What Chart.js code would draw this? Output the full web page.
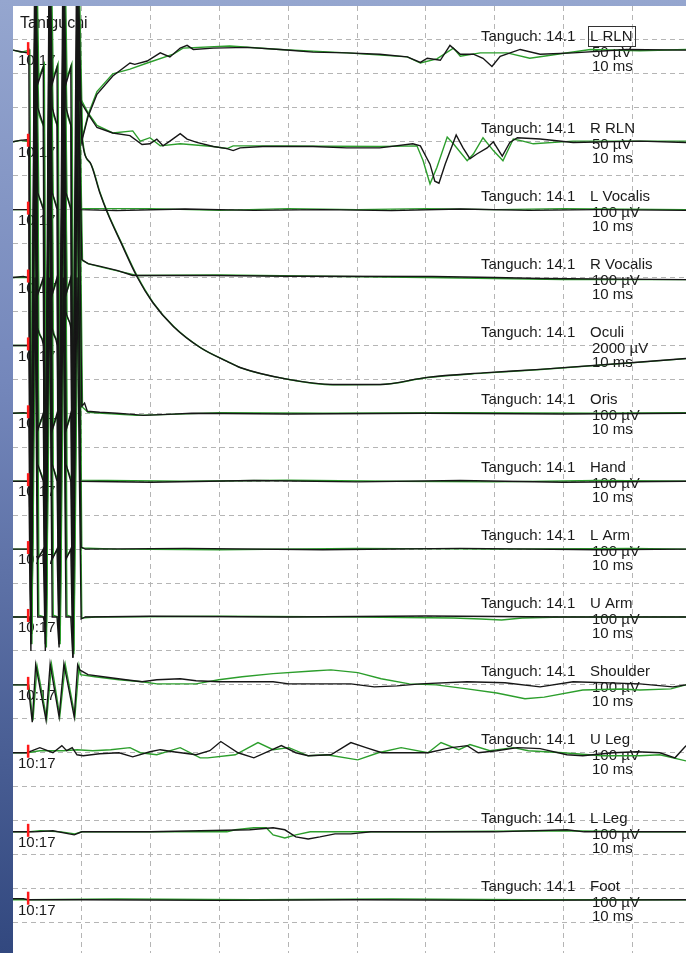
<!DOCTYPE html>
<html>
<head>
<meta charset="utf-8">
<script src="https://cdn.jsdelivr.net/npm/chart.js@4.4.1/dist/chart.umd.min.js"></script>
<style>
  html, body { margin: 0; padding: 0; }
  body {
    width: 686px; height: 953px; overflow: hidden;
    background: linear-gradient(to bottom, #95a6cf 0%, #7487bb 40%, #32487f 100%);
  }
  canvas { display: block; }
</style>
</head>
<body>
<canvas id="traces" width="686" height="953"></canvas>
<script>
// montage
const channelNames = ["L RLN", "R RLN", "L Vocalis", "R Vocalis", "Oculi", "Oris", "Hand",
  "L Arm", "U Arm", "Shoulder", "U Leg", "L Leg", "Foot"];
const sensitivities = [50, 50, 100, 100, 2000, 100, 100, 100, 100, 100, 100, 100, 100]; // µV per division
const channelOffsets = [1.3, 4, 6, 8, 10, 12, 14, 16, 18, 20, 22, 24.33, 26.33]; // display rows, in divisions
const sweepMs = 97.8;
const stimTime = 2.2;
const headerText = "Tanguch: 14.1";
const patientName = "Taniguchi";
const clockLabel = "10:17";
const timebaseLabel = "10 ms";

// traces as [ms, µV]; black = current sweep, green = reference sweep
const lRlnBlack = [[0,0],[1.0,-2],[2.0,-4],[2.3,0],[2.6,-750],[3.2,200],[3.6,-50],[4.4,-25],[4.7,-700],[5.3,200],
  [5.7,-50],[6.4,-25],[6.7,-650],[7.3,200],[7.7,-50],[8.4,-25],[8.7,-600],[9.3,200],[10.0,-134],[10.9,-98],
  [12.2,-65],[14.5,-38],[17.0,-19],[17.7,-21],[19.5,-16],[21.4,-4],[22.8,-10],[24.3,3],[25.3,7],[26.2,1],
  [29.1,3],[34.0,4],[38.8,1],[43.6,-3],[48.5,-4],[53.3,-6],[57.3,-10],[59.2,-18],[60.2,-12],[62.1,-15],
  [63.5,7],[65.0,-6],[66.9,-6],[68.3,-12],[69.6,-24],[70.8,-9],[73.7,1],[76.6,-6],[81.4,-4],[89.2,1],[97.8,0]];
const lRlnGreen = [[0,0],[1.2,-3],[2.45,0],[2.75,-730],[3.35,200],[3.75,-40],[4.55,-20],[4.85,-680],[5.45,200],
  [5.85,-40],[6.55,-20],[6.85,-630],[7.45,200],[7.85,-40],[8.55,-20],[8.85,-580],[9.45,200],[10.1,-128],
  [10.9,-95],[12.2,-61],[14.5,-35],[17.0,-28],[19.5,-19],[23.3,-6],[24.7,3],[31.5,6],[38.8,1],[48.5,-4],
  [57.3,-10],[59.2,-19],[61.6,-13],[64.0,3],[65.0,-9],[67.9,-4],[71.8,-4],[75.1,-12],[79.1,-6],[83.9,1],
  [91.1,-1],[97.8,1]];

const rRlnBlack = [[0,0],[1.0,2],[2.0,3],[2.3,0],[2.6,-700],[3.2,225],[3.6,50],[4.4,25],[4.7,-675],[5.3,225],
  [5.7,50],[6.4,25],[6.7,-650],[7.3,225],[7.7,50],[8.4,25],[8.7,-625],[9.3,225],[9.7,61],[10.9,41],[12.2,21],
  [14.5,13],[17.0,9],[18.75,-4],[19.9,-3],[20.9,4],[21.8,-6],[22.8,1],[24.3,12],[25.3,4],[26.7,-1],[29.1,-7],
  [31.1,-10],[32.0,-13],[33.0,-9],[36.3,-7],[43.6,-7],[48.5,-9],[53.3,-9],[58.1,-3],[59.2,-6],[60.6,-33],
  [61.3,-58],[61.9,-61],[62.8,-33],[64.4,10],[65.4,-9],[66.4,-25],[67.4,-18],[68.9,-9],[69.8,0],[71.1,-21],
  [72.2,-1],[73.3,6],[76.6,4],[81.4,-1],[91.1,1],[97.8,-1]];
const rRlnGreen = [[0,0],[1.2,2],[2.45,0],[2.75,-680],[3.35,225],[3.75,40],[4.55,20],[4.85,-660],[5.45,225],
  [5.85,40],[6.55,20],[6.85,-630],[7.45,225],[7.85,40],[8.55,20],[8.85,-600],[9.45,225],[9.8,64],[10.9,43],
  [12.2,24],[14.5,13],[17.4,16],[18.5,1],[19.9,6],[21.4,-6],[24.3,-3],[29.1,-7],[31.1,-10],[32.0,-6],
  [38.8,-6],[53.3,-7],[58.7,-6],[59.6,-28],[60.6,-62],[61.6,-38],[63.1,7],[64.0,-3],[66.0,-28],[66.9,-18],
  [68.3,6],[69.8,-13],[71.2,-28],[72.7,4],[74.1,1],[75.6,-3],[81.4,1],[97.8,1]];

const lVocBlack = [[0,0],[2.3,0],[2.6,-1250],[3.2,650],[3.6,50],[4.4,0],[4.7,-1200],[5.3,650],[5.7,50],[6.4,0],
  [6.7,-1150],[7.3,650],[7.7,50],[8.4,0],[8.7,-1100],[9.3,600],[9.8,0],[15,-3],[25,2],[35,-2],[45,0],[55,-3],
  [65,2],[75,-2],[85,0],[97.8,-2]];
const lVocGreen = [[0,0],[2.45,0],[2.75,-1200],[3.35,650],[3.75,40],[4.55,0],[4.85,-1150],[5.45,650],[5.85,40],
  [6.55,0],[6.85,-1100],[7.45,650],[7.85,40],[8.55,0],[8.85,-1050],[9.45,600],[9.9,3],[20,3],[30,-2],[40,3],
  [50,0],[60,3],[70,0],[80,3],[97.8,0]];

const rVocBlack = [[0,0],[1.5,3],[2.3,0],[2.6,-1050],[3.2,850],[3.6,-50],[4.4,0],[4.7,-1000],[5.3,850],[5.7,-50],
  [6.4,0],[6.7,-950],[7.3,850],[7.7,-50],[8.4,0],[8.7,-900],[9.3,800],[10.0,53],[10.9,41],[12.7,33],[15.1,21],
  [17.4,6],[20,6],[29,6],[40,4],[61,3],[70,0],[76.6,-3],[97.8,-6]];
const rVocGreen = [[0,0],[2.45,0],[2.75,-1000],[3.35,850],[3.75,-40],[4.55,0],[4.85,-950],[5.45,850],[5.85,-40],
  [6.55,0],[6.85,-900],[7.45,850],[7.85,-40],[8.55,0],[8.85,-850],[9.45,800],[10.1,50],[11,40],[13,30],
  [15.5,18],[18,6],[30,8],[45,4],[60,0],[70,-3],[80,-6],[97.8,-6]];

const oculiBlack = [[0,0],[2.3,0],[2.6,-17000],[3.2,21000],[3.6,1000],[4.4,0],[4.7,-16400],[5.3,21000],
  [5.7,1000],[6.4,0],[6.7,-16000],[7.3,21000],[7.7,2000],[8.4,1000],[8.7,-15600],[9.3,21000],[10.0,12310],
  [11.2,10780],[12.6,9010],[13.7,7830],[15.6,6130],[18.0,4060],[20.3,2530],[23.3,1120],[27.2,-120],
  [31.1,-940],[33.0,-1300],[40.0,-2000],[46.5,-2300],[53.3,-2300],[60.2,-1880],[68.3,-1620],[76.6,-1410],
  [97.8,-770]];
const oculiGreen = [[0,0],[2.45,0],[2.75,-16600],[3.35,21000],[3.75,900],[4.55,0],[4.85,-16000],[5.45,21000],
  [5.85,900],[6.55,0],[6.85,-15600],[7.45,21000],[7.85,1800],[8.55,900],[8.85,-15200],[9.45,21000],
  [10.1,12200],[11.3,10700],[12.7,8950],[13.8,7780],[15.7,6100],[18.1,4050],[20.4,2510],[23.4,1100],
  [27.3,-140],[31.2,-950],[33.1,-1320],[40.1,-2010],[46.6,-2320],[53.4,-2310],[60.3,-1890],[68.4,-1630],
  [76.7,-1420],[97.8,-780]];

const orisBlack = [[0,0],[1.5,2],[2.3,0],[2.6,-680],[3.2,1200],[3.6,-50],[4.4,0],[4.7,-650],[5.3,1200],[5.7,-50],
  [6.4,0],[6.7,-620],[7.3,1200],[7.7,-50],[8.4,0],[8.7,-600],[9.3,1200],[10.0,21],[10.4,30],[10.8,6],[12.6,3],
  [15.1,0],[17.4,-3],[18.9,-6],[22.4,-3],[26,0],[40,-2],[60,0],[80,-2],[97.8,0]];
const orisGreen = [[0,0],[2.45,0],[2.75,-650],[3.35,1200],[3.75,-40],[4.55,0],[4.85,-620],[5.45,1200],[5.85,-40],
  [6.55,0],[6.85,-600],[7.45,1200],[7.85,-40],[8.55,0],[8.85,-580],[9.45,1200],[10.1,18],[10.9,3],[13,0],
  [15.5,-3],[18,-6],[23,-3],[30,2],[45,0],[65,2],[85,0],[97.8,2]];

const handBlack = [[0,0],[2.3,0],[2.6,-500],[3.2,1300],[3.6,50],[4.4,0],[4.7,-480],[5.3,1300],[5.7,50],[6.4,0],
  [6.7,-460],[7.3,1300],[7.7,50],[8.4,0],[8.7,-450],[9.3,1300],[9.8,0],[20,-3],[35,2],[50,-2],[65,2],[80,-3],
  [97.8,0]];
const handGreen = [[0,0],[2.45,0],[2.75,-480],[3.35,1300],[3.75,40],[4.55,0],[4.85,-460],[5.45,1300],[5.85,40],
  [6.55,0],[6.85,-440],[7.45,1300],[7.85,40],[8.55,0],[8.85,-430],[9.45,1300],[9.9,3],[25,0],[40,3],[55,0],
  [70,-2],[85,2],[97.8,0]];

const lArmBlack = [[0,0],[2.3,0],[2.6,-85],[3.2,1200],[3.6,-30],[4.4,0],[4.7,-300],[5.3,1200],[5.7,-30],[6.4,0],
  [6.7,-280],[7.3,1200],[7.7,-30],[8.4,0],[8.7,-320],[9.3,1200],[9.9,6],[10.5,0],[25,2],[45,-2],[65,2],
  [85,-2],[97.8,0]];
const lArmGreen = [[0,0],[2.45,0],[2.75,-80],[3.35,1200],[3.75,-20],[4.55,0],[4.85,-290],[5.45,1200],[5.85,-20],
  [6.55,0],[6.85,-270],[7.45,1200],[7.85,-20],[8.55,0],[8.85,-300],[9.45,1200],[10.0,3],[15,0],[30,-2],
  [50,2],[70,0],[90,2],[97.8,0]];

const uArmBlack = [[0,0],[2.3,0],[2.6,-20],[3.2,1000],[3.6,0],[4.4,0],[4.7,-30],[5.3,1000],[5.7,0],[6.4,0],
  [6.7,-90],[7.3,1000],[7.7,0],[8.4,0],[8.7,-120],[9.3,1000],[9.9,-6],[10.5,0],[20,2],[40,0],[60,3],[80,0],
  [97.8,0]];
const uArmGreen = [[0,0],[2.45,0],[2.75,-15],[3.35,1000],[3.75,5],[4.55,0],[4.85,-25],[5.45,1000],[5.85,5],
  [6.55,0],[6.85,-80],[7.45,1000],[7.85,5],[8.55,0],[8.85,-110],[9.45,1000],[10.0,-3],[12,0],[30,2],[50,0],
  [64,-3],[68,-6],[71,-9],[74,-3],[80,0],[97.8,0]];

const shoulderBlack = [[0,0],[2.2,0],[2.8,-110],[3.3,59],[4.8,-104],[5.4,62],[6.7,-95],[7.4,62],[8.9,-95],
  [9.4,59],[9.7,44],[10.9,30],[13.1,24],[16.4,15],[18.75,9],[20.9,15],[24.3,18],[26.6,12],[29.9,9],[37.8,9],
  [40.1,3],[49.1,3],[52.5,-6],[55.8,-3],[59.2,3],[66.0,9],[71.5,6],[76.6,-6],[81.4,9],[91.1,3],[95.9,-6],
  [97.8,0]];
const shoulderGreen = [[0,0],[2.3,0],[2.9,-105],[3.5,55],[4.9,-100],[5.6,60],[6.8,-92],[7.6,60],[9.0,-92],
  [9.6,55],[9.8,30],[11.9,24],[15.4,15],[18.75,9],[20.9,3],[26.6,3],[29.9,15],[33.3,24],[37.8,33],[43.5,41],
  [46.2,44],[50.1,36],[53.5,18],[57.6,3],[61.5,0],[66.0,-12],[70.3,-24],[74.4,-41],[77.2,-36],[82.8,-15],
  [88.4,-12],[91.1,-15],[95.6,-12],[97.8,0]];

const uLegBlack = [[0,0],[2.0,0],[2.8,6],[3.9,15],[5.8,0],[7.1,21],[7.8,6],[8.6,15],[9.3,-6],[10.2,-9],[12.6,-3],
  [15.4,0],[17.4,-12],[19.9,3],[21.4,9],[23.3,3],[26.6,-6],[28.6,6],[30.2,33],[32.7,0],[35.0,-15],[39.0,21],
  [41.1,0],[42.9,-9],[46.2,-6],[49.1,30],[51.3,15],[53.6,0],[60.3,0],[63.7,15],[66.0,21],[67.6,0],[70.3,6],
  [73.3,15],[76.6,12],[80.5,-6],[82.8,-9],[87.2,0],[90.7,3],[94.0,0],[96.2,-15],[97.8,21]];
const uLegGreen = [[0,0],[2.1,0],[3.9,6],[7.3,6],[9.3,9],[11.6,6],[14.2,9],[17.0,15],[18.5,0],[20.9,-6],[24.3,15],
  [27.2,-15],[28.3,-15],[32.3,-6],[35.6,30],[37.8,9],[40.1,15],[42.9,-9],[45.6,-6],[50.1,-21],[53.1,0],
  [56.4,15],[60.3,0],[62.2,30],[64.8,9],[66.4,24],[69.3,6],[72.7,15],[74.9,6],[79.9,0],[85.6,-9],[91.1,-9],
  [94.0,-6],[97.8,-24]];

const lLegBlack = [[0,0],[2.0,0],[3.0,0],[5.8,3],[8.9,-9],[10,0],[20,0],[34.4,6],[37.8,12],[39.5,6],[41.1,-15],
  [42.9,-21],[44.6,-15],[46.8,-6],[49.1,-6],[52,0],[70,0],[80.5,6],[83,0],[97.8,0]];
const lLegGreen = [[0,0],[2.1,0],[4,3],[7,0],[9,-6],[10,0],[31.1,0],[32.3,6],[35.0,12],[36.8,12],[37.8,-9],
  [39.5,-18],[41.1,-9],[43.2,0],[60,0],[80,3],[90,0],[97.8,0]];

const footBlack = [[0,3],[1.5,3],[2.2,0],[10,0],[30,-2],[50,0],[70,-2],[97.8,0]];
const footGreen = [[0,0],[2.3,0],[15,2],[35,0],[55,2],[75,0],[97.8,0]];

const blackTraces = [lRlnBlack, rRlnBlack, lVocBlack, rVocBlack, oculiBlack, orisBlack, handBlack,
  lArmBlack, uArmBlack, shoulderBlack, uLegBlack, lLegBlack, footBlack];
const greenTraces = [lRlnGreen, rRlnGreen, lVocGreen, rVocGreen, oculiGreen, orisGreen, handGreen,
  lArmGreen, uArmGreen, shoulderGreen, uLegGreen, lLegGreen, footGreen];

const labelFont = '15px "Liberation Sans", Arial, sans-serif';

// µV -> display row (divisions, y axis grows downward)
function toPoints(trace, i) {
  return trace.map(([t, v]) => ({ x: t, y: channelOffsets[i] - v / sensitivities[i] }));
}

const datasets = [];
channelNames.forEach((name, i) => {
  // the slow Oculi wave is drawn smooth, the rest as raw polylines
  const smooth = name === "Oculi" ? { cubicInterpolationMode: "monotone" } : {};
  datasets.push({ label: name + " ref", data: toPoints(greenTraces[i], i), borderColor: "#2c9e2c", order: 2, ...smooth });
  datasets.push({ label: name, data: toPoints(blackTraces[i], i), borderColor: "#161616", order: 1, ...smooth });
});

const onGrid = (ctx) => Number.isInteger(ctx.tick.value) && ctx.tick.value !== 0 ? "#b5b5b5" : "rgba(0,0,0,0)";

const overlay = {
  id: "overlay",
  beforeDraw(chart) {
    const { ctx, chartArea: a } = chart;
    ctx.save();
    ctx.fillStyle = "#ffffff";
    ctx.fillRect(a.left, a.top, a.right - a.left, a.bottom - a.top);
    ctx.restore();
  },
  beforeDatasetsDraw(chart) {
    const { ctx, scales: { y } } = chart;
    ctx.save();
    ctx.fillStyle = "#1a1a1a";
    ctx.textBaseline = "middle";
    ctx.font = '16px "Liberation Sans", Arial, sans-serif';
    ctx.fillText(patientName, 20, 24);
    ctx.font = labelFont;
    channelNames.forEach((name, i) => {
      const yb = y.getPixelForValue(channelOffsets[i]);
      ctx.fillText(clockLabel, 18, yb + 11);
      ctx.fillText(headerText, 481, yb - 13);
      ctx.fillText(name, 590, yb - 13);
      ctx.fillText(sensitivities[i] + " µV", 592, yb + 3);
      ctx.fillText(timebaseLabel, 592, yb + 17);
      if (i === 0) {
        // selected channel
        const w = ctx.measureText(name).width;
        ctx.strokeStyle = "#333";
        ctx.lineWidth = 1;
        ctx.strokeRect(588.5, Math.round(yb - 24) + 0.5, Math.round(w) + 4, 20);
      }
    });
    ctx.restore();
  },
  afterDatasetsDraw(chart) {
    const { ctx, scales: { x, y } } = chart;
    const xs = x.getPixelForValue(stimTime);
    ctx.save();
    ctx.strokeStyle = "#ff1a1a";
    ctx.lineWidth = 2.5;
    channelOffsets.forEach((off) => {
      const yb = y.getPixelForValue(off);
      ctx.beginPath();
      ctx.moveTo(xs, yb - 8);
      ctx.lineTo(xs, yb + 5);
      ctx.stroke();
    });
    ctx.restore();
  }
};

new Chart(document.getElementById("traces"), {
  type: "line",
  data: { datasets },
  options: {
    responsive: false,
    devicePixelRatio: 1,
    animation: false,
    events: [],
    layout: { padding: { left: 13, top: 6, right: 0, bottom: 0 }, autoPadding: false },
    elements: {
      point: { radius: 0 },
      line: { borderWidth: 1.4, tension: 0, fill: false }
    },
    plugins: { legend: { display: false }, tooltip: { enabled: false } },
    scales: {
      x: {
        type: "linear", min: 0, max: sweepMs,
        ticks: { display: false, stepSize: 10 },
        grid: { color: onGrid, drawTicks: false, lineWidth: 1 },
        border: { display: false, dash: [5, 4] }
      },
      y: {
        type: "linear", min: 0, max: 27.9, reverse: true,
        ticks: { display: false, stepSize: 1 },
        grid: { color: onGrid, drawTicks: false, lineWidth: 1 },
        border: { display: false, dash: [5, 4] }
      }
    }
  },
  plugins: [overlay]
});
</script>
</body>
</html>
